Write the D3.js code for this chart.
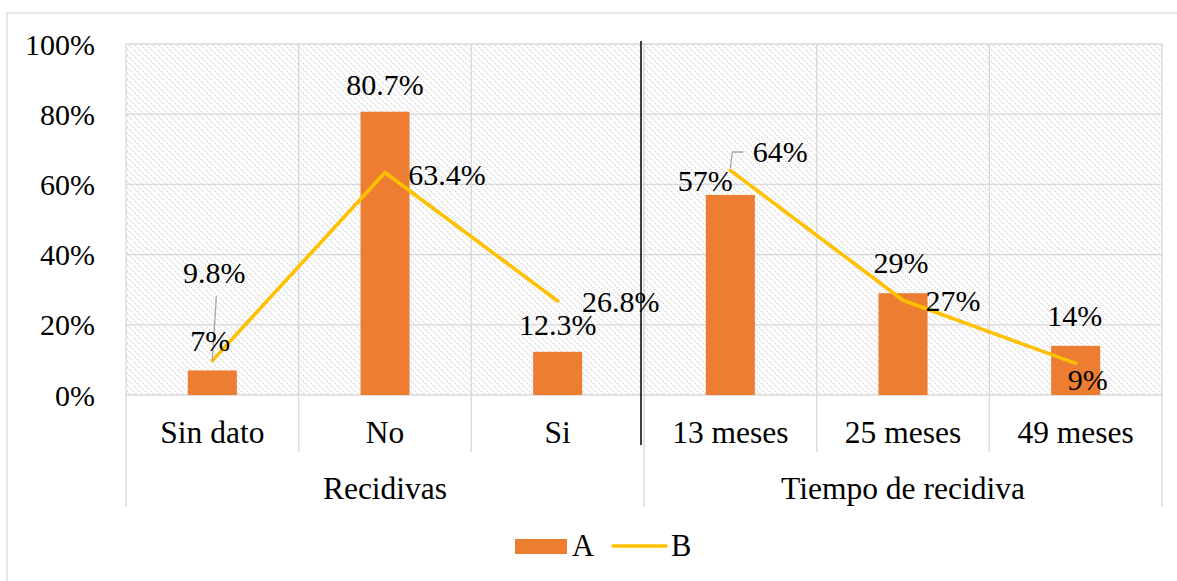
<!DOCTYPE html>
<html>
<head>
<meta charset="utf-8">
<script src="https://cdn.jsdelivr.net/npm/d3@7"></script>
</head>
<body style="margin:0">
<svg id="chart" width="1177" height="581"></svg>
<script>
// ---- data ----
const groups = ["Recidivas", "Tiempo de recidiva"];
const categories = ["Sin dato", "No", "Si", "13 meses", "25 meses", "49 meses"];
const categoryGroup = [0, 0, 0, 1, 1, 1];
const seriesA = [0.07, 0.807, 0.123, 0.57, 0.29, 0.14];
const seriesB = [0.098, 0.634, 0.268, 0.64, 0.27, 0.09];
const labelsA = ["7%", "80.7%", "12.3%", "57%", "29%", "14%"];
const labelsB = ["9.8%", "63.4%", "26.8%", "64%", "27%", "9%"];
const yTicks = [0, 0.2, 0.4, 0.6, 0.8, 1.0];
const tickLabels = ["0%", "20%", "40%", "60%", "80%", "100%"];
const seriesNames = ["A", "B"];

// ---- layout ----
const svg = d3.select("#chart").style("display", "block");
const plot = { left: 126, right: 1162, top: 44, bottom: 395 };
const colA = "#ED7D31", colB = "#FFC000", gridCol = "#d9d9d9";

const x = d3.scaleBand().domain(categories).range([plot.left, plot.right]).padding(0);
const y = d3.scaleLinear().domain([0, 1]).range([plot.bottom, plot.top]);
const barW = x.bandwidth() * 0.284;
const cx = c => x(c) + x.bandwidth() / 2;

function T(sel, size) {
  sel.style("font-family", `"Liberation Serif"`).style("font-size", (size || 30) + "px");
}

// pattern
const defs = svg.append("defs");
const pat = defs.append("pattern").attr("id", "hatch").attr("patternUnits", "userSpaceOnUse")
  .attr("width", 6).attr("height", 6);
pat.append("rect").attr("width", 6).attr("height", 6).attr("fill", "#fff");
pat.append("path").attr("d", "M-1,-1 L7,7 M-7,-1 L1,7 M5,-1 L13,7")
  .attr("stroke", "#d4d4d4").attr("stroke-width", 1.2).attr("stroke-dasharray", "1.5,1.3");

// outer border
svg.append("rect").attr("x", 7).attr("y", 13).attr("width", 1190).attr("height", 600)
  .attr("fill", "#fff").attr("stroke", gridCol).attr("stroke-width", 1.3);

// plot background
svg.append("rect").attr("x", plot.left).attr("y", plot.top)
  .attr("width", plot.right - plot.left).attr("height", plot.bottom - plot.top)
  .attr("fill", "url(#hatch)");

// horizontal gridlines
svg.append("g").selectAll("line").data(yTicks).join("line")
  .attr("x1", plot.left).attr("x2", plot.right)
  .attr("y1", d => y(d)).attr("y2", d => y(d))
  .attr("stroke", gridCol).attr("stroke-width", 1.3);

// vertical gridlines / category separators
const bounds = categories.map(c => x(c)).concat([plot.right]);
svg.append("g").selectAll("line").data(bounds).join("line")
  .attr("x1", d => d).attr("x2", d => d)
  .attr("y1", plot.top)
  .attr("y2", (d, i) => (i === 0 || i === bounds.length - 1 || i === 3) ? 507 : 452)
  .attr("stroke", gridCol).attr("stroke-width", 1.3);

// y tick labels
svg.append("g").selectAll("text").data(yTicks).join("text")
  .attr("x", 95).attr("y", d => y(d)).attr("dy", "0.35em")
  .attr("text-anchor", "end").call(T, 30)
  .text((d, i) => tickLabels[i]);

// category labels
svg.append("g").selectAll("text").data(categories).join("text")
  .attr("x", d => cx(d)).attr("y", 443).attr("text-anchor", "middle")
  .call(T, 31.5).text(d => d);

// group labels
svg.append("g").selectAll("text").data(groups).join("text")
  .attr("x", (g, gi) => {
    const cs = categories.filter((c, i) => categoryGroup[i] === gi);
    return (x(cs[0]) + x(cs[cs.length - 1]) + x.bandwidth()) / 2;
  })
  .attr("y", 499).attr("text-anchor", "middle").call(T, 31.5).text(d => d);

// bars
svg.append("g").selectAll("rect").data(seriesA).join("rect")
  .attr("x", (d, i) => cx(categories[i]) - barW / 2)
  .attr("y", d => y(d)).attr("width", barW).attr("height", d => y(0) - y(d))
  .attr("fill", colA);

// lines (one per group)
const line = d3.line().x(d => cx(categories[d])).y(d => y(seriesB[d]));
groups.forEach((g, gi) => {
  const idx = categories.map((c, i) => i).filter(i => categoryGroup[i] === gi);
  svg.append("path").attr("d", line(idx)).attr("fill", "none")
    .attr("stroke", colB).attr("stroke-width", 3.6)
    .attr("stroke-linejoin", "round").attr("stroke-linecap", "round");
});

// manual black divider
svg.append("line").attr("x1", x("13 meses") - 3).attr("x2", x("13 meses") - 3)
  .attr("y1", 41).attr("y2", 445).attr("stroke", "#000").attr("stroke-width", 1.5);

// leader lines
const leaders = [
  [[cx("Sin dato") + 4, 296], [cx("Sin dato"), y(seriesB[0])]],
  [[cx("13 meses"), y(seriesB[3]) - 2], [cx("13 meses") + 2, 152], [cx("13 meses") + 13, 152]]
];
leaders.forEach(pts => {
  svg.append("path").attr("d", d3.line()(pts)).attr("fill", "none")
    .attr("stroke", "#a6a6a6").attr("stroke-width", 1.3);
});

// data labels for A (nudges relative to bar top)
const nudgeA = [[-2, -19], [0, -17], [0, -17], [-25, -4], [-2, -20], [-1, -20]];
svg.append("g").selectAll("text").data(seriesA).join("text")
  .attr("x", (d, i) => cx(categories[i]) + nudgeA[i][0])
  .attr("y", (d, i) => y(d) + nudgeA[i][1])
  .attr("text-anchor", "middle").call(T, 30)
  .text((d, i) => labelsA[i]);

// data labels for B (nudges relative to point)
const nudgeB = [[2, -78], [62, 13], [63, 11], [50, -8], [50, 11], [12, 27]];
svg.append("g").selectAll("text").data(seriesB).join("text")
  .attr("x", (d, i) => cx(categories[i]) + nudgeB[i][0])
  .attr("y", (d, i) => y(d) + nudgeB[i][1])
  .attr("text-anchor", "middle").call(T, 30)
  .text((d, i) => labelsB[i]);

// legend
const lg = svg.append("g");
lg.append("rect").attr("x", 515).attr("y", 539).attr("width", 52).attr("height", 15).attr("fill", colA);
lg.append("text").attr("x", 572).attr("y", 556).call(T, 30.5).text(seriesNames[0]);
lg.append("line").attr("x1", 613).attr("x2", 666).attr("y1", 546).attr("y2", 546)
  .attr("stroke", colB).attr("stroke-width", 3.6).attr("stroke-linecap", "round");
lg.append("text").attr("x", 671).attr("y", 556).call(T, 30.5).text(seriesNames[1]);
</script>
</body>
</html>
